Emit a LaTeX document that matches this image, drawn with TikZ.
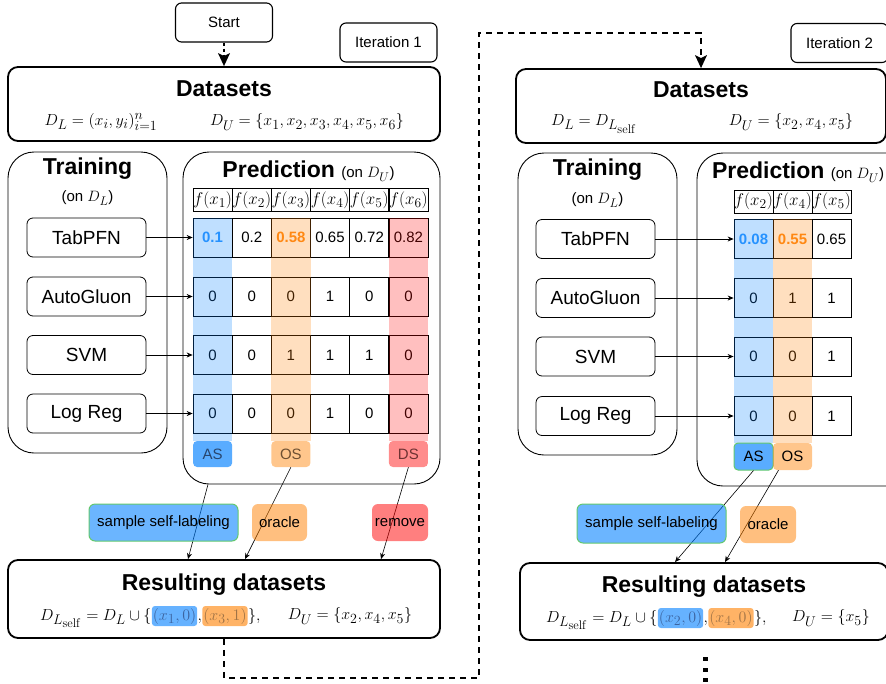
\RequirePackage{fix-cm}
\documentclass[tikz,border=0pt]{standalone}
\usepackage{amsmath,amssymb}
\usepackage[no-math]{fontspec}
\setmainfont{Liberation Sans}
\usepackage{xcolor}
\usetikzlibrary{positioning,arrows.meta}
\DeclareMathSizes{15}{15}{12.5}{11}
\DeclareMathSizes{16}{16}{14}{12.5}
\DeclareMathSizes{17}{17}{13.5}{11}
\definecolor{asblue}{RGB}{0,127,255}
\definecolor{osorange}{RGB}{255,128,0}
\definecolor{dsred}{RGB}{255,0,0}
\definecolor{edgegreen}{RGB}{100,200,110}
\definecolor{valblue}{RGB}{51,153,255}
\definecolor{valorange}{RGB}{255,140,26}
\definecolor{astext}{RGB}{40,70,110}
\definecolor{ostext}{RGB}{110,80,50}
\definecolor{dstext}{RGB}{110,50,50}
\definecolor{pickblue}{RGB}{60,100,160}
\definecolor{pickorange}{RGB}{160,115,70}

\begin{document}
\begin{tikzpicture}[x=1pt, y=-1pt,
  box/.style={draw, rounded corners=6, line width=1.1pt, minimum width=97pt, minimum height=39pt, font=\fontsize{15}{18}\selectfont},
  bigbox/.style={draw, rounded corners=10, line width=1.8pt},
  panel/.style={draw, rounded corners=26, line width=0.9pt},
  model/.style={draw, rounded corners=6, line width=0.8pt, minimum width=119pt, minimum height=39pt, font=\fontsize{19}{22}\selectfont},
  cell/.style={draw, line width=0.8pt, minimum width=39pt, minimum height=39pt, inner sep=0pt, font=\fontsize{15}{18}\selectfont},
  head/.style={draw, line width=0.8pt, minimum width=39pt, minimum height=23pt, inner sep=0pt, font=\fontsize{17}{20}\selectfont},
  title/.style={inner sep=0pt, font=\fontsize{23}{27}\selectfont\bfseries},
  note/.style={inner sep=0pt, font=\fontsize{16}{19}\selectfont},
  sub/.style={inner sep=0pt, font=\fontsize{15}{18}\selectfont},
  tag/.style={rounded corners=4, minimum width=39pt, minimum height=26pt, inner sep=0pt, text opacity=1, font=\fontsize{15}{18}\selectfont},
  action/.style={rounded corners=6, minimum height=37pt, inner sep=0pt, text opacity=1, font=\fontsize{15}{18}\selectfont},
  pick/.style={rounded corners=3, fill opacity=0.6, text opacity=1, inner xsep=1pt, inner ysep=2pt, font=\fontsize{16}{19}\selectfont},
  column/.style={fill opacity=0.25},
  feed/.style={-{Stealth[length=6pt,width=5pt]}, line width=0.7pt},
  result/.style={-{Stealth[length=6pt,width=5pt]}, line width=0.6pt},
  loopline/.style={dashed, line width=1.3pt, dash pattern=on 6pt off 5pt},
  >={Stealth[length=13pt,width=12pt,inset=3pt]}
]
\useasboundingbox (0,0) rectangle (886,683);
\clip (0,0) rectangle (886,683);

% iteration 1
\node[box] (start) at (224,22.5) {Start};
\node[box] (iter1) at (388.5,42.5) {Iteration 1};

\node[bigbox, minimum width=432pt, minimum height=74pt] (data1) at (224,104) {};
\node[title] (data1t) at (224,88.5) {Datasets};
\node[note] (data1l) at (101,122) {$D_L=(x_i,y_i)_{i=1}^{n}$};
\node[note] (data1u) at (307,122) {$D_U=\{x_1,x_2,x_3,x_4,x_5,x_6\}$};

\node[panel, minimum width=159pt, minimum height=301pt] (train1) at (87.5,302.5) {};
\node[title] (train1t) at (87.5,169) {Training};
\node[sub] (train1n) at (87.5,198) {(on $D_L$)};
\node[model] (tabpfn1)    at (86.5,237.5) {TabPFN};
\node[model] (autogluon1) at (86.5,296.5) {AutoGluon};
\node[model] (svm1)       at (86.5,355)   {SVM};
\node[model] (logreg1)    at (86.5,413.5) {Log Reg};

\node[panel, minimum width=257pt, minimum height=332pt] (pred1) at (311.5,318) {};
\node[title] (pred1t) at (308.5,171) {Prediction \mdseries\fontsize{15}{18}\selectfont(on $D_U$)};

\foreach \c in {1,...,6}
  \node[head] (head1-\c) at (173.4+39.17*\c,200) {$f(x_{\c})$};
\foreach \v [count=\c] in {{\textcolor{valblue}{\textbf{0.1}}},0.2,{\textcolor{valorange}{\textbf{0.58}}},0.65,0.72,0.82}
  \node[cell] (tab1-\c) at (173.4+39.17*\c,237.5) {\v};
\foreach \v [count=\c] in {0,0,0,1,0,0}
  \node[cell] (auto1-\c) at (173.4+39.17*\c,296.5) {\v};
\foreach \v [count=\c] in {0,0,1,1,1,0}
  \node[cell] (svm1-\c) at (173.4+39.17*\c,355) {\v};
\foreach \v [count=\c] in {0,0,0,1,0,0}
  \node[cell] (log1-\c) at (173.4+39.17*\c,413.5) {\v};

\fill[asblue, column]   (tab1-1.north west) rectangle ([yshift=-8pt]log1-1.south east);
\fill[osorange, column] (tab1-3.north west) rectangle ([yshift=-8pt]log1-3.south east);
\fill[dsred, column]    (tab1-6.north west) rectangle ([yshift=-8pt]log1-6.south east);

\node[tag, fill=asblue, fill opacity=0.65, text=astext]  (as1) at (212.6,454) {AS};
\node[tag, fill=osorange, fill opacity=0.45, text=ostext] (os1) at (290.9,454) {OS};
\node[tag, fill=dsred, fill opacity=0.45, text=dstext]   (ds1) at (408.4,454) {DS};

\draw[feed] (tabpfn1) -- (tab1-1);
\draw[feed] (autogluon1) -- (auto1-1);
\draw[feed] (svm1) -- (svm1-1);
\draw[feed] (logreg1) -- (log1-1);

\node[bigbox, minimum width=432pt, minimum height=78pt] (res1) at (224,599) {};
\node[title] (res1t) at (224,584.5) {Resulting datasets};

\draw[result] ([xshift=-103.5pt]pred1.south) -- ([xshift=-36pt]res1.north);
\draw[result] (os1.south) -- ([xshift=21pt]res1.north);
\draw[result] (ds1.south) -- ([xshift=157pt]res1.north);

\node[action, minimum width=149pt, fill=asblue, fill opacity=0.58, draw=edgegreen, line width=1pt] (selflab1) at (163.5,522.5) {sample self-labeling};
\node[action, minimum width=55pt, fill=osorange, fill opacity=0.5] (oracle1) at (279.5,522.5) {oracle};
\node[action, minimum width=56pt, fill=dsred, fill opacity=0.5] (remove1) at (400,522.5) {remove};

\node[note, anchor=base west] (res1a) at (40,620) {$D_{L_{\mathrm{self}}}=D_L\cup\{$};
\node[pick, fill=asblue, text=pickblue, base right=0pt of res1a] (res1b) {$(x_1,0)$};
\node[note, base right=0pt of res1b] (res1c) {$,$};
\node[pick, fill=osorange, text=pickorange, base right=0pt of res1c] (res1d) {$(x_3,1)$};
\node[note, base right=0pt of res1d] (res1e) {$\},$};
\node[note] (res1u) at (350,616) {$D_U=\{x_2,x_4,x_5\}$};

% iteration 2
\node[box] (iter2) at (839.5,43) {Iteration 2};

\node[bigbox, minimum width=370pt, minimum height=74pt] (data2) at (701,106) {};
\node[title] (data2t) at (701,90) {Datasets};
\node[note] (data2l) at (594,124) {$D_L=D_{L_{\mathrm{self}}}$};
\node[note] (data2u) at (791,122) {$D_U=\{x_2,x_4,x_5\}$};

\draw[->, dashed, line width=1.3pt] (start) -- (data1);
\draw[loopline, ->] (res1.south) -- ++(0,39) -| (479,33) -| (data2);

\node[panel, minimum width=159pt, minimum height=302pt] (train2) at (597.5,304) {};
\node[title] (train2t) at (597.5,170) {Training};
\node[sub] (train2n) at (597.5,200) {(on $D_L$)};
\node[model] (tabpfn2)    at (595.5,239)   {TabPFN};
\node[model] (autogluon2) at (595.5,298)   {AutoGluon};
\node[model] (svm2)       at (595.5,356.5) {SVM};
\node[model] (logreg2)    at (595.5,416)   {Log Reg};

\node[panel, minimum width=257pt, minimum height=333pt] (pred2) at (825.5,319.5) {};
\node[title] (pred2t) at (798,172) {Prediction \mdseries\fontsize{15}{18}\selectfont(on $D_U$)};

\foreach \x [count=\c] in {2,4,5}
  \node[head] (head2-\c) at (714.5+39*\c,201.5) {$f(x_{\x})$};
\foreach \v [count=\c] in {{\textcolor{valblue}{\textbf{0.08}}},{\textcolor{valorange}{\textbf{0.55}}},0.65}
  \node[cell] (tab2-\c) at (714.5+39*\c,239) {\v};
\foreach \v [count=\c] in {0,1,1}
  \node[cell] (auto2-\c) at (714.5+39*\c,298) {\v};
\foreach \v [count=\c] in {0,0,1}
  \node[cell] (svm2-\c) at (714.5+39*\c,356.5) {\v};
\foreach \v [count=\c] in {0,0,1}
  \node[cell] (log2-\c) at (714.5+39*\c,416) {\v};

\fill[asblue, column]   (tab2-1.north west) rectangle ([yshift=-7pt]log2-1.south east);
\fill[osorange, column] (tab2-2.north west) rectangle ([yshift=-7pt]log2-2.south east);

\node[tag, fill=asblue, fill opacity=0.65, draw=edgegreen, line width=1pt, minimum height=27pt] (as2) at (753.5,456.5) {AS};
\node[tag, fill=osorange, fill opacity=0.45, minimum height=27pt] (os2) at (792.5,456.5) {OS};

\draw[feed] (tabpfn2) -- (tab2-1);
\draw[feed] (autogluon2) -- (auto2-1);
\draw[feed] (svm2) -- (svm2-1);
\draw[feed] (logreg2) -- (log2-1);

\node[bigbox, minimum width=368pt, minimum height=77pt] (res2) at (704,601.5) {};
\node[title] (res2t) at (704,587) {Resulting datasets};

\draw[result] (as2.south) -- ([xshift=-29pt]res2.north);
\draw[result] ([xshift=-14pt]os2.south) -- ([xshift=21pt]res2.north);

\node[action, minimum width=149pt, minimum height=39pt, fill=asblue, fill opacity=0.58, draw=edgegreen, line width=1pt] (selflab2) at (651.5,523.5) {sample self-labeling};
\node[action, minimum width=56pt, fill=osorange, fill opacity=0.5] (oracle2) at (768,524.5) {oracle};

\node[note, anchor=base west] (res2a) at (546,622) {$D_{L_{\mathrm{self}}}=D_L\cup\{$};
\node[pick, fill=asblue, text=pickblue, base right=0pt of res2a] (res2b) {$(x_2,0)$};
\node[note, base right=0pt of res2b] (res2c) {$,$};
\node[pick, fill=osorange, text=pickorange, base right=0pt of res2c] (res2d) {$(x_4,0)$};
\node[note, base right=0pt of res2d] (res2e) {$\},$};
\node[note] (res2u) at (831,618) {$D_U=\{x_5\}$};

\foreach \y in {657,668,678}
  \fill (703,\y) rectangle ++(4.5,4);
\end{tikzpicture}
\end{document}
